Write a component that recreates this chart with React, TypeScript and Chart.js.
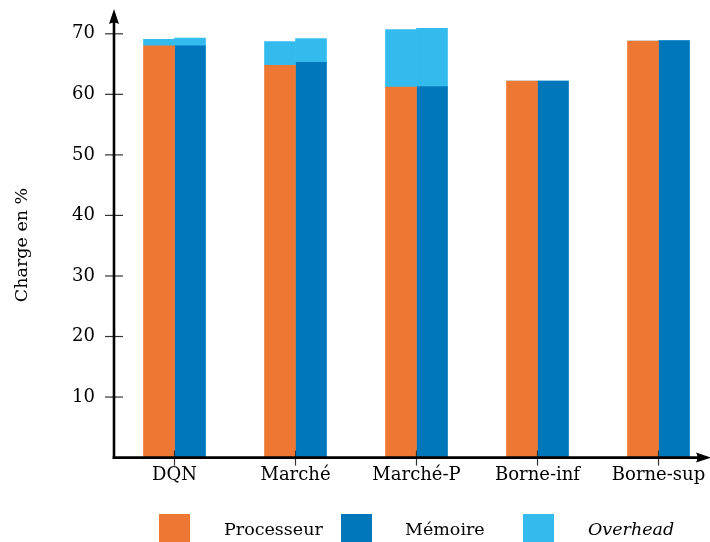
import React, { useEffect, useRef } from 'react';
import { Chart, registerables } from 'chart.js';

Chart.register(...registerables);

const categories = ['DQN', 'Marché', 'Marché-P', 'Borne-inf', 'Borne-sup'];
const processeur = [68.0, 64.8, 61.2, 62.2, 68.8];
const memoire = [68.0, 65.3, 61.3, 62.2, 68.9];
const overheadProc = [1.1, 3.9, 9.5, 0, 0];
const overheadMem = [1.3, 3.9, 9.6, 0, 0];
const yTicks = [10, 20, 30, 40, 50, 60, 70];
const legendLabels = ['Processeur', 'Mémoire', 'Overhead'];
const yTitle = 'Charge en %';

const ORANGE = '#EE7733';
const BLUE = '#0077BB';
const CYAN = '#33BBEE';
const FONT = "'DejaVu Serif', serif";
const TICK_SIZE = 18;
const TEXT_SIZE = 17.5;

const axesPlugin = {
  id: 'customAxes',
  afterDatasetsDraw(chart: any) {
    const { ctx, chartArea, scales } = chart;
    const { left, right, top, bottom } = chartArea;
    const x = scales.x;
    const y = scales.y;
    ctx.save();
    ctx.strokeStyle = '#333';
    ctx.lineWidth = 1.2;
    yTicks.forEach((v) => {
      const py = y.getPixelForValue(v);
      ctx.beginPath();
      ctx.moveTo(left - 9, py);
      ctx.lineTo(left + 9, py);
      ctx.stroke();
    });
    categories.forEach((_, i) => {
      const px = x.getPixelForValue(i);
      ctx.beginPath();
      ctx.moveTo(px, bottom - 7);
      ctx.lineTo(px, bottom + 8);
      ctx.stroke();
    });
    ctx.strokeStyle = '#000';
    ctx.lineWidth = 2.6;
    ctx.beginPath();
    ctx.moveTo(left, bottom + 1.3);
    ctx.lineTo(left, top + 8);
    ctx.stroke();
    ctx.beginPath();
    ctx.moveTo(left - 1.3, bottom);
    ctx.lineTo(right - 8, bottom);
    ctx.stroke();
    ctx.fillStyle = '#000';
    ctx.beginPath();
    ctx.moveTo(left, top - 3);
    ctx.lineTo(left - 5, top + 12);
    ctx.quadraticCurveTo(left, top + 9, left + 5, top + 12);
    ctx.closePath();
    ctx.fill();
    ctx.beginPath();
    ctx.moveTo(right + 3, bottom);
    ctx.lineTo(right - 12, bottom - 5);
    ctx.quadraticCurveTo(right - 9, bottom, right - 12, bottom + 5);
    ctx.closePath();
    ctx.fill();
    // y axis title
    ctx.translate(22, 245);
    ctx.rotate(-Math.PI / 2);
    ctx.fillStyle = '#000';
    ctx.font = `${TEXT_SIZE}px ${FONT}`;
    ctx.textAlign = 'center';
    ctx.textBaseline = 'middle';
    ctx.fillText(yTitle, 0, 0);
    ctx.restore();
  },
};

export default function App() {
  const canvasRef = useRef<HTMLCanvasElement | null>(null);

  useEffect(() => {
    if (!canvasRef.current) return;
    const toPts = (arr: number[]) => arr.map((v, i) => ({ x: i, y: v }));
    const chart = new Chart(canvasRef.current, {
      type: 'bar',
      data: {
        datasets: [
          { label: 'Processeur', data: toPts(processeur), backgroundColor: ORANGE, stack: 'p', barThickness: 31 },
          { label: 'Overhead', data: toPts(overheadProc), backgroundColor: CYAN, stack: 'p', barThickness: 31 },
          { label: 'Mémoire', data: toPts(memoire), backgroundColor: BLUE, stack: 'm', barThickness: 31 },
          { label: 'Overhead', data: toPts(overheadMem), backgroundColor: CYAN, stack: 'm', barThickness: 31 },
        ],
      } as any,
      options: {
        responsive: false,
        animation: false,
        devicePixelRatio: 1,
        layout: { padding: { top: 12, right: 2, left: 0, bottom: 0 } },
        plugins: { legend: { display: false }, tooltip: { enabled: false } },
        scales: {
          x: {
            type: 'linear',
            offset: false,
            min: -0.5,
            max: 4.409,
            stacked: true,
            grid: { display: false, drawTicks: false, offset: false },
            border: { display: false },
            afterBuildTicks: (scale: any) => {
              scale.ticks = categories.map((_, i) => ({ value: i }));
            },
            afterFit: (scale: any) => {
              scale.height = 542 - 457.6;
              scale.paddingLeft = 0;
              scale.paddingRight = 0;
            },
            ticks: {
              color: '#000',
              padding: 7,
              maxRotation: 0,
              autoSkip: false,
              font: { family: FONT, size: TICK_SIZE },
              callback: (v: any) => categories[v] ?? '',
            },
          },
          y: {
            type: 'linear',
            min: 0,
            max: 73.6,
            stacked: true,
            grid: { display: false, drawTicks: false },
            border: { display: false },
            afterBuildTicks: (scale: any) => {
              scale.ticks = yTicks.map((v) => ({ value: v }));
            },
            afterFit: (scale: any) => {
              scale.width = 114;
              scale.paddingTop = 0;
              scale.paddingBottom = 0;
            },
            ticks: {
              color: '#000',
              padding: 19,
              font: { family: FONT, size: TICK_SIZE },
            },
          },
        },
      } as any,
      plugins: [axesPlugin],
    });
    return () => chart.destroy();
  }, []);

  const legendColors = [ORANGE, BLUE, CYAN];
  const boxLefts = [159, 341, 523];
  const textLefts = [224, 405, 588];

  return (
    <div style={{ position: 'absolute', left: 0, top: 0, width: 710, height: 542, overflow: 'hidden', background: '#fff' }}>
      <canvas ref={canvasRef} width={710} height={542} style={{ display: 'block' }} />
      {legendLabels.map((lab, i) => (
        <React.Fragment key={lab}>
          <div style={{ position: 'absolute', left: boxLefts[i], top: 514, width: 31, height: 30, background: legendColors[i] }} />
          <div
            style={{
              position: 'absolute',
              left: textLefts[i],
              top: 519,
              fontFamily: FONT,
              fontSize: TEXT_SIZE,
              lineHeight: '20px',
              color: '#000',
              fontStyle: i === 2 ? 'italic' : 'normal',
              whiteSpace: 'nowrap',
            }}
          >
            {lab}
          </div>
        </React.Fragment>
      ))}
    </div>
  );
}
